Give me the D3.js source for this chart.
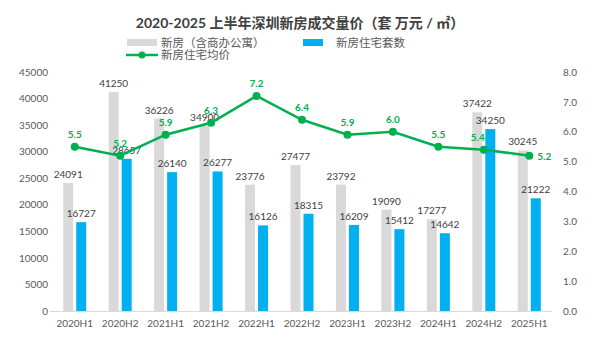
<!DOCTYPE html>
<html>
<head>
<meta charset="utf-8">
<script src="https://cdn.jsdelivr.net/npm/d3@7"></script>
<style>
  body { margin: 0; background: #fff; }
  svg { font-family: Lato, "Noto Sans CJK SC", sans-serif; }
</style>
</head>
<body>
<script>
// half-year periods
var periods = ["2020H1", "2020H2", "2021H1", "2021H2", "2022H1", "2022H2",
               "2023H1", "2023H2", "2024H1", "2024H2", "2025H1"];
// new homes incl. commercial/office (units)
var allUnits = [24091, 41250, 36226, 34900, 23776, 27477, 23792, 19090, 17277, 37422, 30245];
// new residential units
var homeUnits = [16727, 28657, 26140, 26277, 16126, 18315, 16209, 15412, 14642, 34250, 21222];
// residential avg price (10k yuan / m2)
var avgPrice = [5.5, 5.2, 5.9, 6.3, 7.2, 6.4, 5.9, 6.0, 5.5, 5.4, 5.2];

var leftTicks = d3.range(0, 45001, 5000);
var rightTicks = d3.range(0, 8.01, 1);

var width = 606, height = 341;
var gray = "#d9d9d9", blue = "#00b0f0", green = "#00b050", textCol = "#595959";

var svg = d3.select("body").append("svg")
    .attr("width", width)
    .attr("height", height);

var x = d3.scaleBand().domain(periods).range([52, 552]);
var yL = d3.scaleLinear().domain([0, 45000]).range([311, 72]);
var yR = d3.scaleLinear().domain([0, 8]).range([311, 72]);
var barW = 10;

// title
svg.append("text")
    .attr("x", 300).attr("y", 28)
    .attr("text-anchor", "middle")
    .attr("font-size", 14).attr("font-weight", "bold")
    .attr("fill", "#404040")
    .text("2020-2025 上半年深圳新房成交量价（套  万元 / ㎡）");

// legend
var lg = svg.append("g").attr("font-size", 11.5).attr("fill", textCol);
lg.append("rect").attr("x", 127).attr("y", 39).attr("width", 30).attr("height", 7).attr("fill", gray);
lg.append("text").attr("x", 161).attr("y", 47).text("新房（含商办公寓）");
lg.append("rect").attr("x", 303).attr("y", 39).attr("width", 20).attr("height", 7).attr("fill", blue);
lg.append("text").attr("x", 336).attr("y", 47).text("新房住宅套数");
lg.append("line").attr("x1", 126).attr("x2", 158).attr("y1", 55).attr("y2", 55)
    .attr("stroke", green).attr("stroke-width", 2.5);
lg.append("circle").attr("cx", 142).attr("cy", 55).attr("r", 3.5).attr("fill", green);
lg.append("text").attr("x", 161).attr("y", 59).text("新房住宅均价");

// left axis
var leftAxis = svg.append("g")
    .attr("transform", "translate(48,0)")
    .call(d3.axisLeft(yL).tickValues(leftTicks).tickFormat(d3.format("d")).tickSize(0).tickPadding(0));
leftAxis.select(".domain").remove();
leftAxis.selectAll("text").attr("font-size", 10).attr("fill", textCol)
    .attr("font-family", "Lato");

// right axis
var rightAxis = svg.append("g")
    .attr("transform", "translate(563,0)")
    .call(d3.axisRight(yR).tickValues(rightTicks).tickFormat(d3.format(".1f")).tickSize(0).tickPadding(0));
rightAxis.select(".domain").remove();
rightAxis.selectAll("text").attr("font-size", 10).attr("fill", textCol)
    .attr("font-family", "Lato");

// bars
svg.selectAll(".allBar")
    .data(allUnits)
  .enter().append("rect")
    .attr("class", "allBar")
    .attr("x", function(d, i) { return x(periods[i]) + x.bandwidth() / 2 - 11.5; })
    .attr("y", function(d) { return yL(d); })
    .attr("width", barW)
    .attr("height", function(d) { return yL(0) - yL(d); })
    .attr("fill", gray);

svg.selectAll(".homeBar")
    .data(homeUnits)
  .enter().append("rect")
    .attr("class", "homeBar")
    .attr("x", function(d, i) { return x(periods[i]) + x.bandwidth() / 2 + 1.5; })
    .attr("y", function(d) { return yL(d); })
    .attr("width", barW)
    .attr("height", function(d) { return yL(0) - yL(d); })
    .attr("fill", blue);

// x axis
var xAxis = svg.append("g")
    .attr("transform", "translate(0,311.5)")
    .call(d3.axisBottom(x).tickSize(0).tickPadding(8));
xAxis.select(".domain").attr("stroke", gray).attr("d", "M50,0H552");
xAxis.selectAll("text").attr("font-size", 10).attr("fill", textCol)
    .attr("font-family", "Lato");

// bar value labels
svg.selectAll(".allLabel")
    .data(allUnits)
  .enter().append("text")
    .attr("x", function(d, i) { return x(periods[i]) + x.bandwidth() / 2 - 6.5; })
    .attr("y", function(d) { return yL(d) - 5; })
    .attr("text-anchor", "middle")
    .attr("font-size", 10).attr("fill", "#404040")
    .text(function(d) { return d; });

svg.selectAll(".homeLabel")
    .data(homeUnits)
  .enter().append("text")
    .attr("x", function(d, i) { return x(periods[i]) + x.bandwidth() / 2 + 6.5; })
    .attr("y", function(d) { return yL(d) - 5; })
    .attr("text-anchor", "middle")
    .attr("font-size", 10).attr("fill", "#404040")
    .text(function(d) { return d; });

// price line
var line = d3.line()
    .x(function(d, i) { return x(periods[i]) + x.bandwidth() / 2; })
    .y(function(d) { return yR(d); });

svg.append("path")
    .datum(avgPrice)
    .attr("d", line)
    .attr("fill", "none")
    .attr("stroke", green)
    .attr("stroke-width", 2.5);

svg.selectAll(".pt")
    .data(avgPrice)
  .enter().append("circle")
    .attr("cx", function(d, i) { return x(periods[i]) + x.bandwidth() / 2; })
    .attr("cy", function(d) { return yR(d); })
    .attr("r", 4)
    .attr("fill", green);

svg.selectAll(".priceLabel")
    .data(avgPrice)
  .enter().append("text")
    .attr("x", function(d, i) {
      var cx = x(periods[i]) + x.bandwidth() / 2;
      if (i === periods.length - 1) return cx + 15;
      if (i === periods.length - 2) return cx - 6;
      return cx;
    })
    .attr("y", function(d, i) {
      if (i === periods.length - 1) return yR(d) + 4;
      return yR(d) - 9;
    })
    .attr("text-anchor", "middle")
    .attr("font-size", 10).attr("font-weight", "bold")
    .attr("fill", green)
    .text(function(d) { return d3.format(".1f")(d); });
</script>
</body>
</html>
